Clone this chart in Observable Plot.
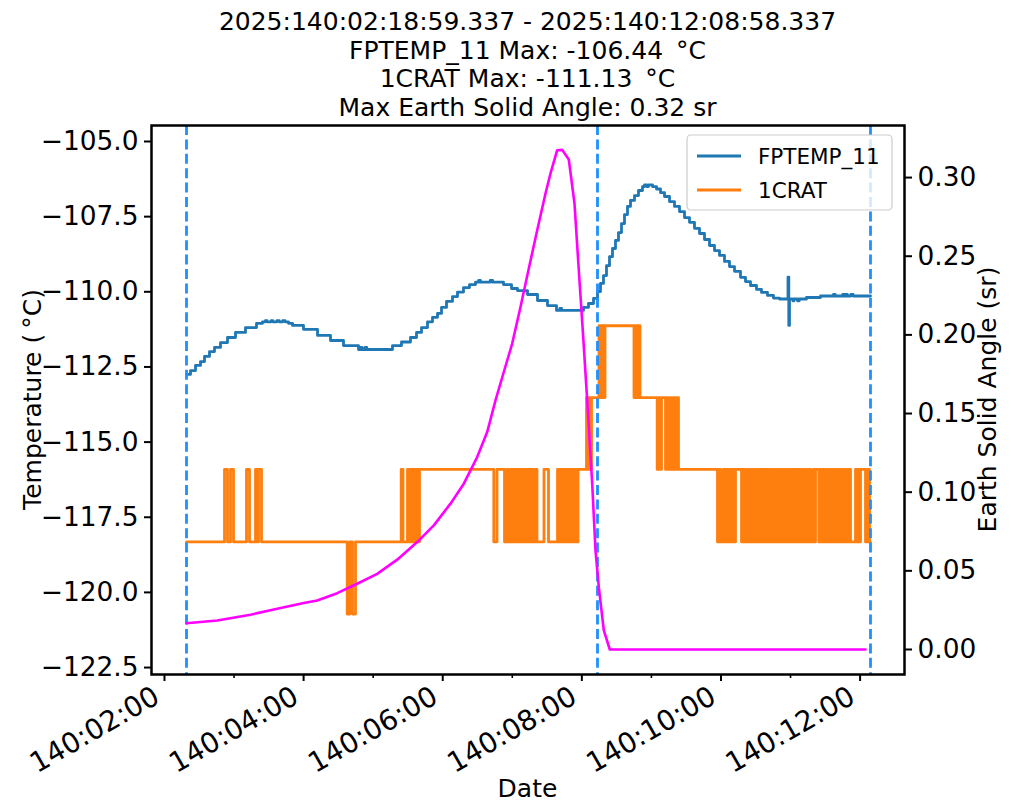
<!DOCTYPE html>
<html><head><meta charset="utf-8">
<script src="https://cdn.jsdelivr.net/npm/d3@7"></script>
<script src="https://cdn.jsdelivr.net/npm/@observablehq/plot@0.6"></script>
<style>
body{margin:0;background:#fff;} #chart{width:1011px;height:811px;}
</style>
</head><body><div id="chart"></div>
<script>
// ---------- data (time = minutes of day 140) ----------
const titleLines = [
  "2025:140:02:18:59.337 - 2025:140:12:08:58.337",
  "FPTEMP_11 Max: -106.44 \u2009\u00B0C",
  "1CRAT Max: -111.13 \u2009\u00B0C",
  "Max Earth Solid Angle: 0.32 sr"
];
const fptempMin = [138.99,142.44,146.76,151.07,154.52,158.83,163.14,168.32,174.36,181.26,189.88,199.37,204.55,207,208.5,212,213.5,217,219,222,224,226.97,230.42,239.91,251.99,263.20,274.41,287.35,289,290.5,293,294.5,316.68,324.44,332.20,337.38,341.69,346.86,351.18,355.49,358.94,363.25,368.42,372.74,377.92,383.09,388.27,391,392.5,401,403,412.42,419.32,424.49,433.12,441.74,450.37,458.13,461,462.5,481.42,485.73,490.05,493.50,496.08,498.67,501.26,503.85,506.43,509.02,511.61,514.20,516.78,519.37,521.96,525.41,528.86,532.31,534.04,536,537.5,540.94,544.39,547.84,551.29,555.60,559.91,564.23,568.54,572.85,577.16,581.48,585.79,590.10,594.41,598.73,603.04,607.35,611.66,616.84,621.15,625.47,630.64,634.95,640.13,645.30,650.48,657.81,658.50,659.10,662,663,666,667.5,673.77,685.84,697.05,698.5,705,706.5,707.5,709,712,714,728.97];
const fptempVal = [-112.75,-112.62,-112.45,-112.32,-112.15,-111.99,-111.85,-111.69,-111.52,-111.35,-111.19,-111.05,-111.00,-110.96,-111.00,-110.96,-111.00,-110.96,-111.00,-110.96,-111.00,-111.05,-111.12,-111.25,-111.45,-111.62,-111.79,-111.92,-111.85,-111.92,-111.85,-111.92,-111.79,-111.67,-111.52,-111.35,-111.19,-111.00,-110.85,-110.72,-110.52,-110.32,-110.16,-110.01,-109.86,-109.76,-109.68,-109.62,-109.68,-109.62,-109.68,-109.76,-109.89,-109.96,-110.09,-110.29,-110.46,-110.62,-110.55,-110.62,-110.52,-110.39,-110.22,-109.99,-109.72,-109.46,-109.13,-108.83,-108.56,-108.29,-108.03,-107.73,-107.43,-107.16,-106.96,-106.80,-106.63,-106.50,-106.44,-106.50,-106.44,-106.50,-106.58,-106.70,-106.83,-107.00,-107.16,-107.33,-107.53,-107.69,-107.89,-108.06,-108.26,-108.46,-108.63,-108.79,-108.99,-109.16,-109.32,-109.52,-109.66,-109.79,-109.92,-110.02,-110.12,-110.21,-110.24,-109.51,-111.12,-110.24,-110.30,-110.24,-110.30,-110.24,-110.19,-110.14,-110.09,-110.14,-110.09,-110.14,-110.09,-110.14,-110.09,-110.14,-110.14];

// 1CRAT quantised levels (°C) and step changes [minute, level index]
const cratLevels = [-120.72, -118.32, -115.91, -113.52, -111.13];
const cratSteps = [
  [138.99,1],[171.77,2],[174.36,1],[176.94,2],[179.53,1],[190.74,2],[193.33,1],[198.51,2],[200.23,1],[201.10,2],[203.68,1],
  [277.60,0],[279.85,1],[282.17,0],[284.76,1],
  [324.18,2],[325.73,1],
  [329.61,2],[330.48,1],[331.34,2],[332.63,1],[333.50,2],[334.79,1],[335.65,2],[336.95,1],[337.81,2],[339.10,1],[339.96,2],
  [404.05,1],[406.81,2],
  [413.28,1],[415.01,2],[416.73,1],[418.46,2],
  [420.18,1],[421.04,2],[422.34,1],[423.20,2],[424.49,1],[425.36,2],[426.65,1],[427.51,2],[428.81,1],[429.67,2],[430.53,1],
  [431.39,2],[432.69,1],[433.55,2],[434.84,1],[435.71,2],[437.00,1],[437.86,2],[439.16,1],[440.02,2],[441.31,1],
  [447.35,2],[451.23,1],
  [459.00,2],[460.29,1],[461.58,2],[462.45,1],[463.74,2],[465.03,1],[465.90,2],[467.19,1],[468.05,2],[469.35,1],
  [470.21,2],[471.51,1],[472.37,2],[473.66,1],[474.53,2],[475.82,1],[476.68,2],
  [484.01,3],[485.30,2],[486.17,3],[487.46,2],[488.32,3],
  [494.79,4],[495.65,3],[496.51,4],[497.37,3],[498.24,4],[499.10,3],[499.96,4],
  [524.97,3],[525.84,4],[526.70,3],[527.56,4],[528.43,3],[529.29,4],[530.15,3],
  [544.98,2],[546.11,3],[547.40,2],[548.70,3],[552.15,2],[553.44,3],[554.73,2],[556.46,3],[557.75,2],[559.04,3],
  [560.77,2],[562.07,3],[563.36,2],
  [597.00,1],[598.30,2],[599.59,1],[601.92,2],[603.04,1],[603.90,2],[605.20,1],[606.06,2],[606.75,1],[608.22,2],
  [609.51,1],[610.37,2],[611.67,1],[612.53,2],[617.71,1],[618.57,2],[619.43,1],[620.73,2],[621.59,1],[622.88,2],
  [623.75,1],[625.04,2],[625.90,1],[627.20,2],[628.06,1],[629.35,2],[630.22,1],[631.51,2],[632.37,1],[633.67,2],
  [634.53,1],[635.56,2],[636.43,1],[637.55,2],[638.41,1],[639.70,2],[640.56,1],[641.86,2],[642.72,1],[644.19,2],
  [645.31,1],[646.60,2],[647.46,1],[648.50,2],[649.36,1],[650.48,2],[651.34,1],[652.64,2],[653.50,1],[654.79,2],
  [655.65,1],[656.95,2],[657.81,1],[659.10,2],[659.96,1],[661.26,2],[662.12,1],[662.81,2],[664.28,1],[665.57,2],
  [666.43,1],[667.73,2],[668.59,1],[669.88,2],[670.75,1],[672.04,2],[672.90,1],[674.20,2],[675.06,1],[676.35,2],
  [677.22,1],[679.54,2],[680.24,1],[681.53,2],[684.38,1],[685.41,2],[686.27,1],[687.57,2],[688.43,1],[689.73,2],
  [690.59,1],[691.88,2],[692.74,1],[694.04,2],[694.90,1],[696.19,2],[697.06,1],[698.35,2],[699.22,1],[700.51,2],
  [701.37,1],[702.67,2],[703.53,1],[704.82,2],[705.69,1],[706.98,2],[707.84,1],[709.14,2],[710.00,1],[710.86,2],
  [711.73,1],[716.04,2],[717.33,1],[718.20,2],[719.06,1],[720.35,2],[724.66,1],[725.95,2],[726.81,1],[727.68,2],
  [728.11,1],[728.97,1]
];

const esaMin = [138.99,165.47,194.20,217.22,240.17,251.73,268.98,286.23,303.48,320.73,337.98,352.30,366.70,378.17,389.73,398.36,405.52,412.68,419.92,427.08,434.24,441.49,448.64,452.96,458.74,463.05,468.74,473.66,477.37,481.16,484.61,488.93,491.77,494.62,498.93,504.11,724.66];
const esaVal = [0.0167,0.0184,0.0221,0.0259,0.0295,0.0312,0.0358,0.0418,0.0481,0.0571,0.0683,0.0789,0.0927,0.1054,0.1223,0.1382,0.1584,0.1764,0.1945,0.2177,0.2422,0.2665,0.2899,0.3026,0.3174,0.3176,0.3115,0.2835,0.2411,0.1987,0.1584,0.1054,0.0630,0.0396,0.0121,0.0,0.0];

const markerMin = [138.99, 493.5, 728.97];
const xTickMin = [120, 240, 360, 480, 600, 720];
const xMinorMin = [180, 300, 420, 540, 660];
const tempTicks = [-122.5, -120, -117.5, -115, -112.5, -110, -107.5, -105];
const esaTicks = [0, 0.05, 0.10, 0.15, 0.20, 0.25, 0.30];
const seriesNames = ["FPTEMP_11", "1CRAT"];
const seriesColors = ["#1f77b4", "#ff7f0e"];

// ---------- build ----------
const W = 1011, H = 811, mL = 151, mR = 107, mT = 125, mB = 137;
const tempDomain = [-122.731, -104.468];
const esaDomain = [-0.0159, 0.3331];
const toTemp = d3.scaleLinear().domain(esaDomain).range(tempDomain);

const fptemp = fptempMin.map((m, i) => ({m, v: fptempVal[i]}));
const crat = cratSteps.map(([m, s]) => ({m, v: cratLevels[s]}));
const esa = esaMin.map((m, i) => ({m, v: toTemp(esaVal[i])}));
const pad2 = n => String(Math.round(n)).padStart(2, "0");
const noLabel = () => "";

const plot = Plot.plot({
  width: W, height: H,
  marginLeft: mL, marginRight: mR, marginTop: mT, marginBottom: mB,
  style: {fontFamily: "DejaVu Sans", fontSize: "25px", background: "white", color: "black", overflow: "visible"},
  x: {domain: [108.8, 758.3]},
  y: {domain: tempDomain},
  marks: [
    Plot.line(fptemp, {x: "m", y: "v", stroke: seriesColors[0], strokeWidth: 2.8, curve: "step-after"}),
    Plot.line(crat, {x: "m", y: "v", stroke: seriesColors[1], strokeWidth: 2.8, curve: "step-after"}),
    Plot.ruleX(markerMin, {stroke: "#1e90ff", strokeWidth: 2.8, strokeDasharray: "10,4.4"}),
    Plot.line(esa, {x: "m", y: "v", stroke: "#ff00ff", strokeWidth: 2.6}),
    Plot.axisX({ticks: xTickMin, tickFormat: noLabel, tickSize: 7, strokeWidth: 2, label: null}),
    Plot.axisX({ticks: xMinorMin, tickFormat: noLabel, tickSize: 4, strokeWidth: 1.6, label: null}),
    Plot.axisY({anchor: "left", ticks: tempTicks, tickFormat: noLabel, tickSize: 7, strokeWidth: 2, label: null}),
    Plot.axisY({anchor: "right", ticks: esaTicks.map(toTemp), tickFormat: noLabel, tickSize: 7, strokeWidth: 2, label: null}),
    // tick labels, placed through the same scales
    Plot.text(xTickMin, {x: d => d, frameAnchor: "bottom", dx: -13, dy: 10, rotate: -30, textAnchor: "end", lineAnchor: "top",
      fontSize: 28, fill: "black", text: d => `140:${pad2(d / 60)}:00`}),
    Plot.text(tempTicks, {y: d => d, frameAnchor: "left", dx: -13, textAnchor: "end", lineAnchor: "middle",
      fontSize: 26.4, fill: "black", text: d3.format(".1f")}),
    Plot.text(esaTicks, {y: d => toTemp(d), frameAnchor: "right", dx: 13, textAnchor: "start", lineAnchor: "middle",
      fontSize: 26.4, fill: "black", text: d => d.toFixed(2)}),
    Plot.frame({stroke: "black", strokeWidth: 2.5})
  ]
});
document.getElementById("chart").appendChild(plot);

const svg = d3.select(plot);
const cx = (mL + (W - mR)) / 2;
const cy = (mT + H - mB) / 2;
const tg = svg.append("g").attr("font-family", "DejaVu Sans").attr("fill", "black").attr("text-anchor", "middle");
const addText = (sel, t, size) => sel.append("text").style("font-size", size + "px").text(t);
titleLines.forEach((t, i) => {
  addText(tg, t, 25).attr("x", cx).attr("y", 30 + i * 28.7);
});
addText(tg, "Date", 25).attr("x", cx).attr("y", 797);
addText(tg, "Temperature (\u2009\u00B0C)", 25).attr("transform", `translate(41,${cy}) rotate(-90)`);
addText(tg, "Earth Solid Angle (sr)", 25).attr("transform", `translate(996,${cy}) rotate(-90)`);

// legend
const lg = svg.append("g").attr("font-family", "DejaVu Sans").attr("text-anchor", "start");
lg.append("rect").attr("x", 687).attr("y", 135).attr("width", 205).attr("height", 75).attr("rx", 4)
  .attr("fill", "white").attr("fill-opacity", 0.8).attr("stroke", "#cccccc").attr("stroke-width", 1.2);
seriesNames.forEach((n, i) => {
  const y = 156 + i * 34;
  lg.append("line").attr("x1", 697).attr("x2", 741).attr("y1", y).attr("y2", y).attr("stroke", seriesColors[i]).attr("stroke-width", 2.8);
  addText(lg, n, 21.5).attr("x", 758).attr("y", y + 8).attr("fill", "black").attr("text-anchor", "start");
});
</script>
</body></html>
